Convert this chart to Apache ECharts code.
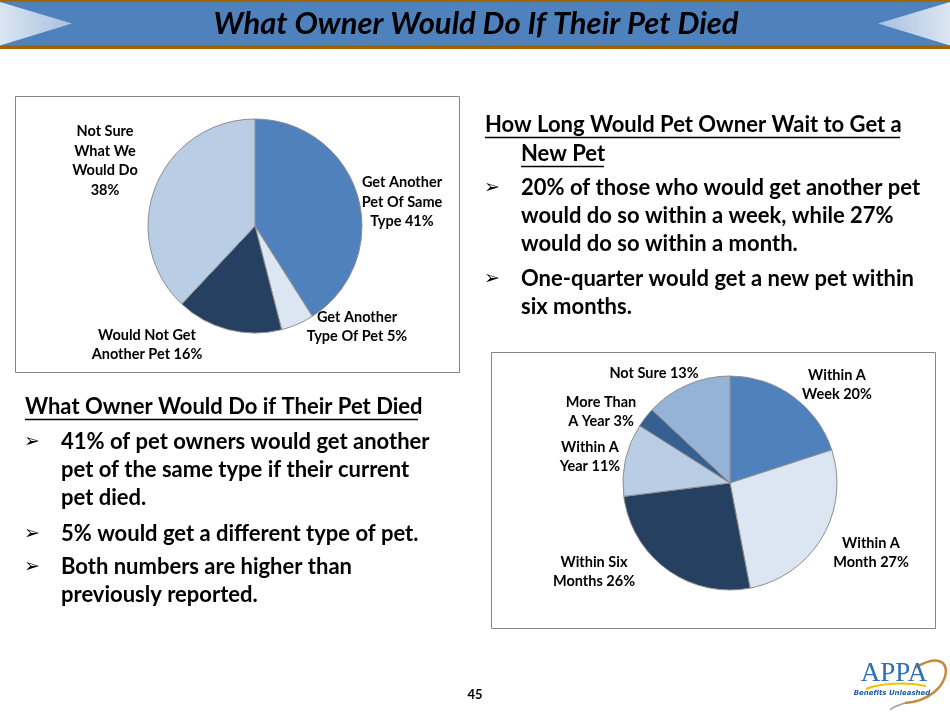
<!DOCTYPE html>
<html>
<head>
<meta charset="utf-8">
<script src="https://cdn.jsdelivr.net/npm/echarts@6/dist/echarts.min.js"></script>
<style>
html,body{margin:0;padding:0;background:#fff;}
#chart{width:950px;height:713px;}
</style>
</head>
<body>
<div id="chart"></div>
<script>
// ---------- DATA ----------
const titleText = 'What Owner Would Do If Their Pet Died';

const pie1Categories = ['Get Another\nPet Of Same\nType', 'Get Another\nType Of Pet', 'Would Not Get\nAnother Pet', 'Not Sure\nWhat We\nWould Do\n'];
const pie1Values = [41, 5, 16, 38];

const pie2Categories = ['Within A\nWeek', 'Within A\nMonth', 'Within Six\nMonths', 'Within A\nYear', 'More Than\nA Year', 'Not Sure'];
const pie2Values = [20, 27, 26, 11, 3, 13];

const leftHeading = 'What Owner Would Do if Their Pet Died';
const leftBullets = [
  ['41% of pet owners would get another', 'pet of the same type if their current', 'pet died.'],
  ['5% would get a different type of pet.'],
  ['Both numbers are higher than', 'previously reported.']
];
const rightHeading = ['How Long Would Pet Owner Wait to Get a', 'New Pet'];
const rightBullets = [
  ['20% of those who would get another pet', 'would do so within a week, while 27%', 'would do so within a month.'],
  ['One-quarter would get a new pet within', 'six months.']
];
const pageNumber = '45';

// ---------- STYLE ----------
const pie1Colors = ['#4F81BD', '#DCE6F2', '#254061', '#B9CDE5'];
const pie2Colors = ['#4F81BD', '#DCE6F2', '#254061', '#B9CDE5', '#376092', '#95B3D7'];
const pie1LabelPos = [[402, 202], [357, 327], [147, 345], [105, 161]];
const pie2LabelPos = [[837, 385], [871, 553], [594, 572], [590, 457], [601, 412], [654, 373]];
const FONT = 'Lato';
const BODY_SIZE = 22;

const chart = echarts.init(document.getElementById('chart'), null, {renderer: 'canvas'});

function labelText(name, v) {
  if (name.endsWith('\n')) return name + v + '%';
  return name + ' ' + v + '%';
}

function pieSeries(cats, vals, colors, center, labelPos) {
  return {
    type: 'pie',
    center: center,
    radius: 107,
    startAngle: 90,
    clockwise: true,
    animation: false,
    silent: true,
    data: cats.map((c, i) => ({name: c, value: vals[i], itemStyle: {color: colors[i]}})),
    itemStyle: {borderColor: '#8E8E8E', borderWidth: 1},
    label: {
      show: true,
      position: 'outside',
      formatter: p => labelText(p.name, p.value),
      fontFamily: FONT,
      fontWeight: 'bold',
      fontSize: 14.5,
      lineHeight: 19.5,
      color: '#000',
      align: 'center',
      overflow: 'none',
      width: 200
    },
    labelLine: {show: false},
    labelLayout: p => ({
      x: labelPos[p.dataIndex][0],
      y: labelPos[p.dataIndex][1],
      align: 'center',
      verticalAlign: 'middle',
      hideOverlap: false
    }),
    emphasis: {disabled: true}
  };
}

const graphics = [];
// Banner
graphics.push({type: 'rect', shape: {x: 0, y: 0, width: 950, height: 49}, style: {fill: '#4F81BD'}, silent: true});
graphics.push({type: 'rect', shape: {x: 0, y: 0, width: 950, height: 1.5}, style: {fill: '#9C6500'}, silent: true});
graphics.push({type: 'rect', shape: {x: 0, y: 45.5, width: 950, height: 3.5}, style: {fill: '#9C6500'}, silent: true});
graphics.push({type: 'polygon', shape: {points: [[0, 2], [72, 23.5], [0, 45.5]]},
  style: {fill: new echarts.graphic.LinearGradient(0, 0, 1, 0, [{offset: 0, color: '#DCE6F2'}, {offset: 1, color: '#A7BFE0'}])}, silent: true});
graphics.push({type: 'polygon', shape: {points: [[950, 2], [878, 23.5], [950, 45.5]]},
  style: {fill: new echarts.graphic.LinearGradient(1, 0, 0, 0, [{offset: 0, color: '#DCE6F2'}, {offset: 1, color: '#A7BFE0'}])}, silent: true});
graphics.push({type: 'text', x: 476, y: 24, style: {text: titleText, fontFamily: FONT, fontWeight: 'bold', fontStyle: 'italic', fontSize: 31, fill: '#000', align: 'center', verticalAlign: 'middle'}, silent: true});

// Boxes
graphics.push({type: 'rect', shape: {x: 15.5, y: 96.5, width: 444, height: 276}, style: {fill: 'none', stroke: '#868686', lineWidth: 1}, silent: true});
graphics.push({type: 'rect', shape: {x: 491.5, y: 352.5, width: 444, height: 276}, style: {fill: 'none', stroke: '#868686', lineWidth: 1}, silent: true});

function addText(txt, x, y, size, extra) {
  graphics.push({type: 'text', x: x, y: y, style: Object.assign({text: txt, fontFamily: FONT, fontWeight: 'bold', fontSize: size, fill: '#000', align: 'left', verticalAlign: 'middle'}, extra || {}), silent: true});
}
function addUnderline(x1, x2, y) {
  graphics.push({type: 'line', shape: {x1: x1, y1: y, x2: x2, y2: y}, style: {stroke: '#000', lineWidth: 1.5}, silent: true});
}
function addBullet(x, y) {
  graphics.push({type: 'text', x: x, y: y, style: {text: '\u27A2', fontFamily: 'DejaVu Sans', fontSize: 19, fill: '#000', align: 'left', verticalAlign: 'middle'}, silent: true});
}

// Left text block
addText(leftHeading, 25, 407, BODY_SIZE);
addUnderline(25, 418, 419.5);
const leftYs = [[442, 470, 498], [534], [567, 595]];
leftBullets.forEach((lines, i) => {
  addBullet(24, leftYs[i][0]);
  lines.forEach((l, j) => addText(l, 61, leftYs[i][j], BODY_SIZE));
});

// Right text block
addText(rightHeading[0], 485, 125, BODY_SIZE);
addUnderline(485, 900, 137.5);
addText(rightHeading[1], 521, 154, BODY_SIZE);
addUnderline(521, 604, 166.5);
const rightYs = [[188, 216, 244], [279, 307]];
rightBullets.forEach((lines, i) => {
  addBullet(484, rightYs[i][0]);
  lines.forEach((l, j) => addText(l, 521, rightYs[i][j], BODY_SIZE));
});

// Page number
addText(pageNumber, 475, 695, 13, {align: 'center'});

// Logo
graphics.push({type: 'bezierCurve', shape: {x1: 915, y1: 668, cpx1: 960, cpy1: 640, cpx2: 955, cpy2: 700, x2: 905, y2: 703}, style: {stroke: '#C8893C', lineWidth: 2.5, fill: 'none'}, silent: true});
graphics.push({type: 'bezierCurve', shape: {x1: 905, y1: 703, cpx1: 895, cpy1: 706, cpx2: 892, cpy2: 708, x2: 890, y2: 710}, style: {stroke: '#A0A0A0', lineWidth: 1.5, fill: 'none'}, silent: true});
graphics.push({type: 'text', x: 894, y: 674, style: {text: 'APPA', fontFamily: 'Liberation Serif', fontSize: 27, fill: '#2E6FB7', align: 'center', verticalAlign: 'middle'}, silent: true});
graphics.push({type: 'bezierCurve', shape: {x1: 866, y1: 689, cpx1: 880, cpy1: 683, cpx2: 905, cpy2: 682, x2: 926, y2: 686}, style: {stroke: '#F2C200', lineWidth: 2, fill: 'none'}, silent: true});
graphics.push({type: 'text', x: 892, y: 693, style: {text: 'Benefits Unleashed', fontFamily: 'DejaVu Sans', fontWeight: 'bold', fontStyle: 'italic', fontSize: 7, fill: '#1F5AA6', align: 'center', verticalAlign: 'middle'}, silent: true});

chart.setOption({
  backgroundColor: '#ffffff',
  animation: false,
  graphic: graphics,
  series: [
    pieSeries(pie1Categories, pie1Values, pie1Colors, [255, 226], pie1LabelPos),
    pieSeries(pie2Categories, pie2Values, pie2Colors, [730, 483], pie2LabelPos)
  ]
});
</script>
</body>
</html>
